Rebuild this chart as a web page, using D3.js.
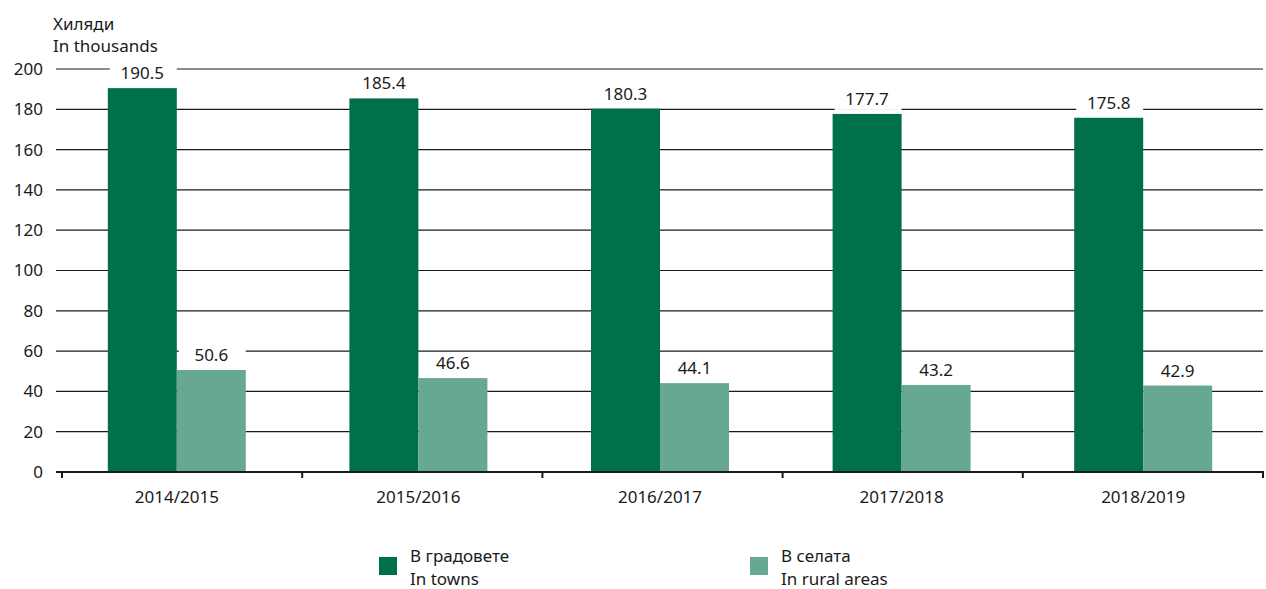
<!DOCTYPE html>
<html><head><meta charset="utf-8">
<script src="https://cdn.jsdelivr.net/npm/d3@7"></script>
<style>body{margin:0;background:#fff;} text{font-family:"Noto Sans",sans-serif;fill:#1a1a1a;}</style>
</head><body>
<svg id="c" width="1266" height="589"></svg>
<script>
const categories = ["2014/2015","2015/2016","2016/2017","2017/2018","2018/2019"];
const towns = [190.5,185.4,180.3,177.7,175.8];
const rural = [50.6,46.6,44.1,43.2,42.9];
const yTicks = [0,20,40,60,80,100,120,140,160,180,200];
const seriesNames = [["В градовете","In towns"],["В селата","In rural areas"]];
const colors = ["#00704a","#66a892"];

const FS = 17;
const svg = d3.select("#c");
const x = d3.scaleBand().domain(categories).range([56,1264]).padding(0);
const xt = d3.scaleBand().domain(categories).range([62,1263]).padding(0);
const y = d3.scaleLinear().domain([0,200]).range([472,69]);
const barW = 69;
const cx = c => x(c)+x.bandwidth()/2;

// gridlines
svg.append("g").selectAll("line").data(yTicks.filter(d=>d>0)).join("line")
  .attr("x1",56).attr("x2",1263).attr("y1",d=>y(d)).attr("y2",d=>y(d))
  .attr("stroke","#1a1a1a").attr("stroke-width",1.2);
// y labels
svg.append("g").selectAll("text").data(yTicks).join("text")
  .attr("x",43).attr("y",d=>y(d)).attr("dy","0.35em").attr("text-anchor","end")
  .attr("font-size",FS).text(d=>d);

const series = [towns, rural];
series.forEach((vals,si)=>{
  const g = svg.append("g");
  g.selectAll("rect").data(vals).join("rect")
    .attr("x",(d,i)=>cx(categories[i])-barW+si*barW)
    .attr("width",barW)
    .attr("y",d=>y(d)).attr("height",d=>y(0)-y(d))
    .attr("fill",colors[si]);
  g.selectAll("rect.bg").data(vals).join("rect").attr("class","bg")
    .attr("x",(d,i)=>cx(categories[i])-barW+si*barW+2)
    .attr("width",barW-2)
    .attr("y",d=>y(d)-26).attr("height",22)
    .attr("fill","#fff");
  g.selectAll("text").data(vals).join("text")
    .attr("x",(d,i)=>cx(categories[i])-barW/2+si*barW)
    .attr("y",d=>y(d)-9).attr("text-anchor","middle").attr("font-size",FS)
    .text(d=>d.toFixed(1));
});

// x axis
svg.append("line").attr("x1",56).attr("x2",1264).attr("y1",y(0)).attr("y2",y(0))
  .attr("stroke","#1a1a1a").attr("stroke-width",2);
const bounds = categories.map(c=>xt(c)).concat([xt(categories[categories.length-1])+xt.bandwidth()]);
svg.append("g").selectAll("line").data(bounds).join("line")
  .attr("x1",d=>d).attr("x2",d=>d).attr("y1",y(0)).attr("y2",y(0)+6)
  .attr("stroke","#1a1a1a").attr("stroke-width",2);
svg.append("g").selectAll("text").data(categories).join("text")
  .attr("x",d=>cx(d)).attr("y",503).attr("text-anchor","middle")
  .attr("font-size",FS).text(d=>d);

// unit title
svg.append("text").attr("x",53).attr("y",30).attr("font-size",FS).text("Хиляди");
svg.append("text").attr("x",53).attr("y",52).attr("font-size",FS).text("In thousands");

// legend
const legX = [379,750];
seriesNames.forEach((nm,i)=>{
  svg.append("rect").attr("x",legX[i]).attr("y",557).attr("width",18).attr("height",18).attr("fill",colors[i]);
  svg.append("text").attr("x",legX[i]+31).attr("y",562).attr("font-size",FS).text(nm[0]);
  svg.append("text").attr("x",legX[i]+31).attr("y",585).attr("font-size",FS).text(nm[1]);
});
</script>
</body></html>
